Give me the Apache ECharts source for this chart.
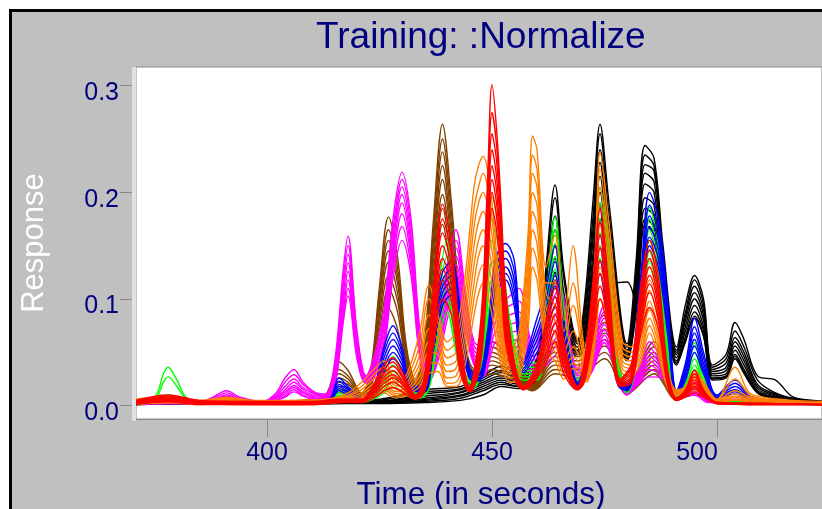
<!DOCTYPE html>
<html><head><meta charset="utf-8">
<style>html,body{margin:0;padding:0;background:#fff}#c{width:822px;height:509px}</style>
<script src="https://cdn.jsdelivr.net/npm/echarts@6/dist/echarts.min.js"></script>
</head><body><div id="c"></div>
<script>
// Response values are written in thousandths.
const yTicks=[0,0.1,0.2,0.3];
const xTicks=[400,450,500];

const blackTimes=[370,390,410,425,435,443,448,452,456,460,462,464,466,469,470.5,472.5,474,476,480,482,484,486,488,491,493,495,497,499,502,504,506,509,513,517,524];
const blackLines=[
[2,3,3,6,15,18,28,37,30,45,130,207,125,62,95,195,264,190,58,135,244,232,150,55,95,122,100,38,48,78,62,28,24,8,4],
[2,3,3,5,13,16,26,33,28,42,120,195,118,60,88,180,255,178,55,125,235,225,142,52,88,118,95,36,44,70,55,24,12,7,4],
[2,2,3,4,11,15,24,31,26,38,110,178,105,58,82,168,240,165,52,118,226,220,135,50,84,112,90,34,40,64,50,20,11,6,3],
[2,2,3,4,9,13,22,28,24,35,100,165,98,55,76,158,228,152,50,110,218,210,128,48,80,106,85,32,36,60,46,18,10,6,3],
[2,2,2,4,7,12,20,26,22,32,90,150,90,52,70,145,215,142,48,104,208,200,120,45,75,100,80,30,33,56,42,16,9,5,3],
[2,2,2,3,6,10,18,24,20,30,82,138,84,50,65,135,200,132,46,98,195,188,112,42,70,94,74,28,30,52,38,14,8,5,3],
[1,2,2,3,4,7,14,20,18,28,75,125,78,48,60,125,188,125,44,92,185,178,106,40,65,88,70,26,28,48,34,13,7,4,2],
[1,2,2,2,3,5,10,18,16,25,68,115,72,46,55,115,175,118,42,86,175,168,100,38,60,82,65,24,26,44,30,12,6,4,2],
[1,2,2,3,5,9,16,22,18,28,75,125,78,50,62,130,190,115,116,95,170,160,100,40,62,84,66,25,27,46,32,12,7,4,2]
];

const brownTimes=[370,395,408,413,416,418,421,423,425,427,429,431,433,435,437,439,441,443,446,450,455,459,464,469,475,480,486,491,495,500,510,524];
const brownLines=[
[3,4,5,10,41,33,12,32,112,177,140,55,24,60,175,264,190,95,35,60,40,22,60,55,85,18,60,10,22,6,4,2],
[3,4,5,9,34,28,12,28,105,165,130,50,22,55,165,250,180,90,33,55,36,20,55,50,78,17,55,9,20,6,4,2],
[3,3,4,8,30,25,11,26,98,155,122,48,21,50,155,238,170,85,31,50,34,19,50,46,72,16,50,9,18,5,3,2],
[2,3,4,8,26,22,10,24,92,145,115,45,20,47,145,225,160,80,30,46,32,18,46,42,68,15,46,8,17,5,3,2],
[2,3,4,7,22,20,10,22,85,135,106,42,19,44,135,212,152,76,28,42,30,17,42,38,62,14,42,8,15,5,3,2],
[2,3,3,6,18,17,9,20,78,122,98,40,18,40,125,198,142,72,26,38,28,16,38,34,56,13,38,7,14,4,3,1],
[2,3,3,6,15,14,8,18,70,110,88,36,17,36,115,185,132,66,25,34,26,15,34,30,50,12,34,7,12,4,3,1],
[2,2,3,5,12,12,8,16,55,91,72,30,16,32,105,170,122,60,24,30,24,14,30,26,44,11,30,6,10,4,2,1]
];

const magentaTimes=[370,385,388,391,394,399,402,404,406,408,411,413,415,417,418,420,422,424,426,428,430,432,434,436,438,440,442,444,446,448,451,453,456,459,462,465,469,472,475,477,480,483,485,488,491,495,498,504,524];
const magentaLines=[
[3,4,8,14,8,4,12,26,34,22,12,11,40,130,159,70,28,50,90,175,219,175,70,32,70,130,165,110,60,55,140,100,110,60,85,110,35,55,94,70,14,40,60,40,10,22,6,6,2],
[3,3,7,12,7,4,10,22,29,20,11,10,35,122,150,66,27,46,84,165,212,168,66,30,66,122,155,104,56,50,128,92,98,55,76,100,32,50,88,65,13,36,54,36,9,20,6,5,2],
[3,3,6,10,6,4,9,18,25,17,10,9,30,114,142,62,26,42,78,158,205,160,62,28,62,115,148,98,52,46,115,84,88,50,68,90,30,46,82,60,13,33,50,34,9,18,5,5,2],
[2,3,5,9,6,3,8,15,22,15,9,9,27,106,134,58,25,38,72,150,198,152,58,27,58,108,140,92,48,42,102,76,78,46,62,82,28,42,76,56,12,30,46,32,8,16,5,4,2],
[2,3,5,8,5,3,7,13,19,13,8,8,24,98,126,54,24,35,66,142,190,145,54,26,54,100,132,86,45,38,90,68,70,42,56,74,26,38,71,52,12,28,42,30,8,15,5,4,2],
[2,2,4,7,5,3,6,11,17,12,7,7,21,90,118,50,23,32,60,135,180,138,50,25,50,94,125,80,42,34,80,60,62,38,50,66,24,35,66,48,11,26,38,28,7,13,4,4,1],
[2,2,4,6,4,3,5,9,15,10,6,7,19,84,110,47,22,30,56,128,168,130,47,24,46,88,118,75,40,30,70,54,55,34,44,58,22,32,62,44,11,24,34,26,7,12,4,3,1],
[2,2,3,5,4,3,5,8,13,9,6,6,17,80,103,44,21,28,52,120,155,122,44,23,42,80,110,70,38,27,60,48,48,30,38,50,20,30,59,40,10,22,27,26,7,10,3,3,1]
];

const greenTimes=[370,375,377,378,380,382,385,395,410,414,416,418,421,424,426,428,430,432,434,436,438,440,442,444,446,448,450,452,454,457,460,462,464,466,469,472,474,476,478,480,483,485,487,489,491,493,495,497,500,510,524];
const greenLines=[
[3,8,30,36,24,8,4,3,3,6,15,10,5,14,30,46,34,16,12,30,110,155,85,30,25,80,196,150,80,40,40,100,177,90,25,70,204,150,40,18,100,186,150,60,10,30,59,30,6,4,2],
[3,6,22,27,18,7,4,3,3,5,12,8,5,12,25,38,28,14,11,26,100,140,78,28,23,72,175,135,72,36,36,92,165,84,23,64,190,140,37,16,92,175,140,55,9,25,50,26,6,3,2],
[3,5,9,10,8,5,3,3,3,5,10,7,4,10,22,32,24,12,10,23,90,125,70,26,21,64,155,120,64,33,33,85,152,78,21,58,175,130,34,15,85,165,130,50,8,22,44,22,5,3,2],
[3,4,7,8,6,4,3,3,2,4,9,6,4,9,18,27,20,11,9,20,80,112,62,24,20,56,135,105,56,30,30,78,140,72,20,52,162,120,31,14,78,155,120,45,8,20,38,20,5,3,1],
[2,3,5,6,5,3,3,2,2,4,8,5,4,8,15,22,17,10,8,18,70,100,56,22,18,48,118,92,50,27,27,70,128,66,19,47,150,112,28,13,72,145,112,40,7,18,34,18,4,3,1],
[2,3,4,5,4,3,2,2,2,3,7,5,3,7,12,17,14,9,7,16,60,88,50,20,17,40,100,80,44,24,24,62,118,60,18,42,138,104,26,12,66,136,105,36,7,16,30,16,4,2,1]
];

const blueTimes=[370,378,385,395,410,414,416,418,421,424,426,428,430,432,435,437,439,441,443,445,447,449,451,453,455,457,460,462,464,466,469,472,474,476,478,480,483,485,487,489,491,493,495,497,500,504,508,524];
const blueLines=[
[3,8,4,3,3,7,26,18,8,22,55,75,55,20,18,80,125,135,90,35,30,70,140,152,135,43,82,110,150,80,22,80,186,100,25,20,120,200,175,100,14,40,82,50,10,24,8,2],
[3,7,4,3,3,6,23,16,7,20,50,68,50,18,17,74,118,128,85,33,28,65,132,145,125,40,74,100,135,74,21,74,172,94,24,18,110,188,165,92,13,36,74,45,9,21,7,2],
[3,6,3,3,2,6,20,15,7,18,45,62,46,17,16,68,112,122,80,31,26,60,125,138,116,38,68,92,122,68,20,68,160,88,22,17,102,178,155,86,12,33,68,40,8,18,6,2],
[3,5,3,2,2,5,18,13,6,16,40,56,42,16,15,62,106,116,75,29,25,56,118,130,108,35,62,85,112,63,19,62,148,82,21,16,94,168,146,80,11,30,62,36,8,15,6,2],
[2,5,3,2,2,5,16,12,6,15,36,50,38,15,14,57,100,110,70,27,24,52,112,124,100,33,56,78,102,58,18,56,136,76,20,15,86,158,138,74,10,27,56,33,7,13,5,1],
[2,4,3,2,2,4,14,10,5,13,32,44,34,14,13,52,94,104,66,25,23,48,106,118,92,31,50,70,92,53,17,50,124,70,19,14,80,150,130,68,9,24,50,30,7,11,5,1]
];

const orangeTimes=[370,378,385,391,397,405,413,418,421,424,426,428,430,432,434,436,438,440,442,444,446,447,448,450,452,454,456,458,459,460,462,464,466,468,470,471,473,474,476,479,481,483,485,487,489,491,493,495,497,500,504,508,524];
const orangeLines=[
[6,8,5,8,5,5,6,12,22,35,42,28,25,40,70,113,85,60,70,120,205,225,234,190,95,50,70,160,253,240,130,160,80,150,70,40,150,238,170,60,55,85,130,95,35,15,18,33,22,6,36,10,4],
[4,7,4,7,4,4,5,10,18,30,36,24,22,34,58,100,78,52,60,105,185,205,218,175,85,45,62,148,235,222,115,115,70,115,60,36,135,222,155,55,50,75,118,85,30,14,16,30,20,5,25,8,3],
[3,6,3,6,3,3,4,9,15,26,30,20,18,28,48,85,70,45,50,92,168,190,200,160,78,42,55,135,218,205,105,94,60,94,52,32,120,205,140,50,46,68,108,78,27,13,15,28,18,5,14,7,2],
[3,5,3,5,3,2,3,8,12,22,26,17,15,24,40,72,62,38,42,80,150,172,182,145,70,38,48,122,200,188,92,80,50,70,45,30,105,188,128,46,42,62,98,70,25,12,14,25,16,4,11,6,2],
[2,4,3,4,3,2,3,7,10,18,22,14,13,20,34,60,55,32,35,68,132,155,165,130,62,34,42,110,182,170,80,68,42,55,40,28,92,170,116,42,38,56,90,64,23,11,13,23,14,4,9,5,2],
[2,4,2,4,2,2,3,6,8,15,18,12,11,17,28,50,48,26,28,58,115,140,150,115,54,30,36,98,165,152,70,58,36,46,36,26,82,150,104,38,35,50,82,58,21,11,12,20,13,3,8,4,1],
[1,3,2,3,2,1,2,5,7,12,15,10,9,14,23,40,40,21,22,48,100,122,132,100,46,26,30,85,148,135,60,50,30,40,32,24,72,130,92,34,32,45,75,52,19,10,11,18,12,3,6,4,1],
[1,3,1,3,1,1,2,4,6,10,12,8,8,12,18,30,32,18,18,38,85,105,115,85,38,22,25,72,130,118,52,42,25,35,28,22,62,100,80,30,28,40,68,46,17,9,10,15,10,3,5,3,1]
];

const redTimes=[370,378,385,395,410,416,421,424,426,428,430,433,435,437,439,441,443,445,447,448,449,450,451,452,453,455,457,460,462,464,466,469,470.5,472.5,474,476,478.5,481,483,485,487,489,491,493,495,497,500,510,524];
const redLines=[
[4,10,5,4,4,6,6,22,38,45,32,10,28,110,189,150,60,18,60,110,210,301,260,190,110,40,18,40,80,118,60,18,40,120,184,110,25,40,110,155,120,35,7,15,33,15,3,2,1],
[4,9,4,4,3,6,6,20,34,41,29,10,25,100,175,140,55,17,55,100,195,275,245,178,100,38,18,38,74,110,55,18,37,112,172,102,24,37,102,146,112,32,7,14,30,14,3,2,1],
[3,8,4,3,3,5,5,18,30,37,27,9,23,92,162,130,50,16,50,92,182,255,230,168,92,36,17,36,68,102,50,17,34,104,160,96,23,34,96,138,105,30,6,13,27,13,3,2,1],
[3,7,3,3,2,5,5,16,27,33,24,9,21,84,150,122,46,16,46,85,170,240,215,158,85,34,17,34,62,94,46,17,31,96,148,90,22,31,90,130,98,28,6,12,24,12,2,2,1],
[2,6,3,2,2,4,5,14,24,29,22,8,19,76,138,114,42,15,42,78,158,225,202,148,78,32,16,32,56,86,42,16,28,88,136,84,21,28,84,122,92,26,6,11,21,11,2,2,1],
[2,5,3,2,2,4,4,12,21,26,20,8,17,70,128,106,38,15,38,72,148,212,190,138,72,30,16,30,50,78,38,16,26,80,124,78,20,26,78,114,86,24,5,10,18,10,2,1,1],
[1,4,2,1,1,3,4,10,18,22,17,7,15,64,118,98,35,14,34,66,138,200,178,128,66,28,15,28,45,70,35,15,24,74,112,72,19,24,72,106,80,22,5,9,16,9,2,1,1],
[1,4,1,1,1,3,3,8,14,17,13,6,13,56,100,85,30,13,30,60,125,185,165,118,60,26,15,26,40,60,30,15,22,66,100,66,18,22,66,92,72,20,5,8,12,8,2,1,1]
];

const groups=[
 ['black','#000000',blackTimes,blackLines],
 ['brown','#804000',brownTimes,brownLines],
 ['magenta','#FF00FF',magentaTimes,magentaLines],
 ['green','#00FF00',greenTimes,greenLines],
 ['blue','#0000FF',blueTimes,blueLines],
 ['orange','#FF8000',orangeTimes,orangeLines],
 ['red','#FF0000',redTimes,redLines]
];

const navy='#000080', font='"Liberation Sans", Arial, sans-serif';
const series=[];
groups.forEach(([name,color,times,lines])=>{
  lines.forEach((row,i)=>{
    series.push({
      name:name+' '+(i+1),type:'line',smooth:0.35,symbol:'none',silent:true,animation:false,
      lineStyle:{color,width:1.4},
      data:row.map((v,j)=>[times[j],v/1000])
    });
  });
});

const chart=echarts.init(document.getElementById('c'),null,{renderer:'canvas'});
chart.setOption({
  animation:false,
  backgroundColor:'#ffffff',
  graphic:[
    {type:'rect',z:-10,silent:true,shape:{x:10.5,y:10.5,width:900,height:600},style:{fill:'#C0C0C0',stroke:'#000',lineWidth:3}},
    {type:'rect',z:10,silent:true,shape:{x:132,y:67,width:4,height:354},style:{fill:'#E2E2E2'}}
  ],
  title:{text:'Training: :Normalize',left:311,top:14,textStyle:{color:navy,fontFamily:font,fontSize:37,fontWeight:'normal'}},
  grid:{left:136,top:67,width:686,height:352,outerBoundsMode:'none',show:true,backgroundColor:'#fff',borderColor:'#8c8c8c',borderWidth:1},
  xAxis:{
    type:'value',min:370.89,max:523.33,scale:true,
    name:'Time (in seconds)',nameLocation:'middle',nameGap:60,nameMoveOverlap:false,
    nameTextStyle:{color:navy,fontFamily:font,fontSize:31.5,padding:[0,0,0,4]},
    axisLine:{show:true,onZero:false,lineStyle:{color:'#8c8c8c',width:1}},
    axisTick:{show:true,length:18,customValues:xTicks,lineStyle:{color:'#888',width:1}},
    axisLabel:{show:true,customValues:xTicks,margin:22,hideOverlap:false,showMinLabel:true,showMaxLabel:true,
      color:navy,fontFamily:font,fontSize:25,
      formatter:v=>v===500?'{s|500}':String(v),
      rich:{s:{color:navy,fontFamily:font,fontSize:25,padding:[0,40,0,0]}}},
    splitLine:{show:false}
  },
  yAxis:{
    type:'value',min:-0.01247,max:0.31753,scale:true,
    name:'Response',nameLocation:'middle',nameGap:86,nameRotate:90,nameMoveOverlap:false,nameTextStyle:{color:'#fff',fontFamily:font,fontSize:31},
    axisLine:{show:false,onZero:false},
    axisTick:{show:true,length:16,customValues:yTicks,lineStyle:{color:'#888',width:1}},
    axisLabel:{show:true,customValues:yTicks,margin:17,color:navy,fontFamily:font,fontSize:25,
      formatter:v=>'{t|'+v.toFixed(1)+'}',
      rich:{t:{color:navy,fontFamily:font,fontSize:25,padding:[15,0,0,0]}}},
    splitLine:{show:false}
  },
  series
});
</script></body></html>
